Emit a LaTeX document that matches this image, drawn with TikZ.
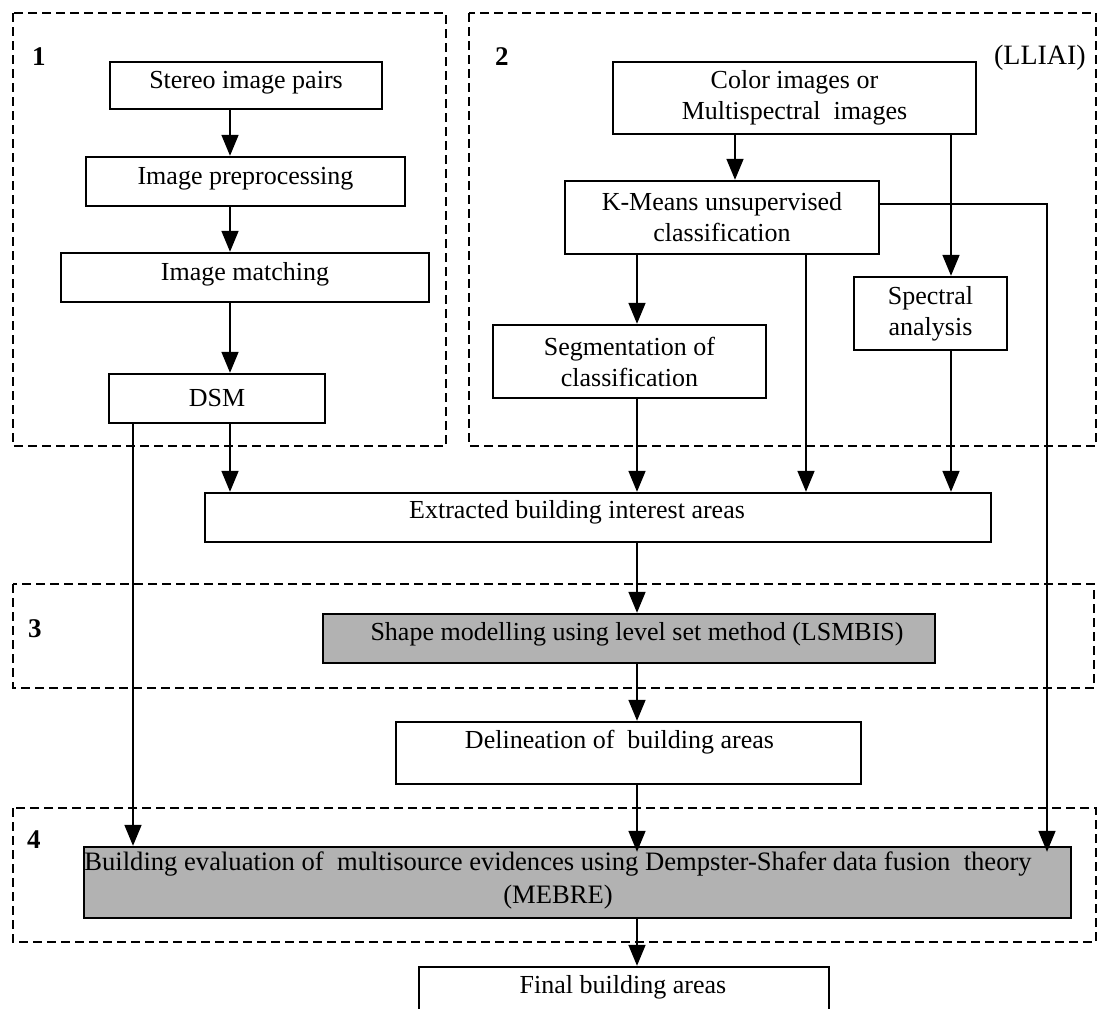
\documentclass[tikz,border=0pt]{standalone}
\usepackage{fontspec}
\setmainfont{Liberation Serif}
\usetikzlibrary{arrows.meta,calc}
\definecolor{panelgray}{gray}{0.70}
\begin{document}
\begin{tikzpicture}[x=1pt,y=-1pt,
  txt/.style={font=\fontsize{26}{31}\selectfont, inner sep=0pt},
  box/.style={draw, line width=2.4pt, inner sep=0pt, txt, text height=17pt, text depth=12pt},
  box2/.style={draw, line width=2.4pt, inner sep=0pt, txt, align=center},
  shaded/.style={box, fill=panelgray, text height=, text depth=},
  frame/.style={line width=2.2pt, dash pattern=on 9pt off 5pt},
  arr/.style={line width=1.7pt, -{Triangle[length=21pt,width=17pt]}},
  num/.style={font=\fontsize{27}{30}\selectfont\bfseries, inner sep=0pt, anchor=base west}]

\useasboundingbox (0,0) rectangle (1098,1009);
\fill[white] (0,0) rectangle (1098,1009);
\clip (0,0) rectangle (1098,1009);

% dashed group frames
\draw[frame] (13,13) rectangle (446,446);
\draw[frame] (469,13) rectangle (1096,446);
\draw[frame] (13,584) rectangle (1094,688);
\draw[frame] (13,808) rectangle (1096,942);

% group numbers
\node[num] (n1) at (32,65) {1};
\node[num] (n2) at (495,65) {2};
\node[num] (n3) at (28,637) {3};
\node[num] (n4) at (27,848) {4};
\node[txt, font=\fontsize{28}{30}\selectfont, anchor=base east] (lliai) at (1086,64) {(LLIAI)};

% column 1: stereo processing
\node[box, minimum width=272pt, minimum height=47pt] (stereo) at (246,85.5) {Stereo image pairs};
\node[box, minimum width=319pt, minimum height=49pt] (prep) at (245.5,181.5) {Image preprocessing};
\node[box, minimum width=368pt, minimum height=49pt] (match) at (245,277.5) {Image matching};
\node[box, minimum width=216pt, minimum height=49pt, text height=20pt, text depth=5pt] (dsm) at (217,398.5) {DSM};

% column 2: image classification
\node[box2, minimum width=363pt, minimum height=72pt] (color) at (794.5,98) {Color images or\\Multispectral\ \ images};
\node[box2, minimum width=314pt, minimum height=73pt] (kmeans) at (722,217.5) {K-Means unsupervised\\classification};
\node[box2, minimum width=153pt, minimum height=73pt] (spectral) at (930.5,313.5) {Spectral\\analysis};
\node[box2, minimum width=273pt, minimum height=73pt] (seg) at (629.5,361.5) {Segmentation of\\classification};

% lower chain
\node[box, minimum width=786pt, minimum height=49pt] (ext) at (598,517.5) {};
\node[txt, anchor=base] (ext-t) at (577,518) {Extracted building interest areas};
\node[shaded, minimum width=612pt, minimum height=49pt] (shape) at (629,638.5) {};
\node[txt, anchor=base] (shape-t) at (637,640) {Shape modelling using level set method (LSMBIS)};
\node[box, minimum width=465pt, minimum height=62pt] (delin) at (628.5,753) {};
\node[txt, anchor=base] (delin-t) at (619.5,748) {Delineation of\ \ building areas};
\node[shaded, minimum width=987pt, minimum height=71pt] (eval) at (577.5,882.5) {};
\node[txt, font=\fontsize{26.6}{33}\selectfont, align=center] (eval-t) at (558,880.5)
  {Building evaluation of\ \ multisource evidences using Dempster-Shafer data fusion\ \ theory\\(MEBRE)};
\node[box, minimum width=410pt, minimum height=48pt] (final) at (624,991) {};
\node[txt, anchor=base] (final-t) at (623,993) {Final building areas};

% vertical guide positions for connectors
\coordinate (xa) at (230,0);
\coordinate (xd) at (133,0);
\coordinate (xk) at (735,0);
\coordinate (xs) at (951,0);
\coordinate (xc) at (637,0);
\coordinate (xm) at (806,0);
\coordinate (xr) at (1047,0);
\coordinate (yk) at (0,204);

% connectors
\draw[arr] (stereo.south -| xa) -- (prep.north -| xa);
\draw[arr] (prep.south -| xa) -- (match.north -| xa);
\draw[arr] (match.south -| xa) -- (dsm.north -| xa);
\draw[arr] (dsm.south -| xa) -- (ext.north -| xa);
\draw[arr] (dsm.south -| xd) -- (eval.north -| xd);

\draw[arr] (color.south -| xk) -- (kmeans.north -| xk);
\draw[arr] (color.south -| xs) -- (spectral.north -| xs);
\draw[arr] (kmeans.south -| xc) -- (seg.north -| xc);
\draw[arr] (kmeans.south -| xm) -- (ext.north -| xm);
\draw[arr, shorten >=-6pt] (kmeans.east |- yk) -| (eval.north -| xr);
\draw[arr] (seg.south -| xc) -- (ext.north -| xc);
\draw[arr] (spectral.south -| xs) -- (ext.north -| xs);

\draw[arr] (ext.south -| xc) -- (shape.north -| xc);
\draw[arr] (shape.south -| xc) -- (delin.north -| xc);
\draw[arr, shorten >=-6pt] (delin.south -| xc) -- (eval.north -| xc);
\draw[arr] (eval.south -| xc) -- (final.north -| xc);
\end{tikzpicture}
\end{document}
